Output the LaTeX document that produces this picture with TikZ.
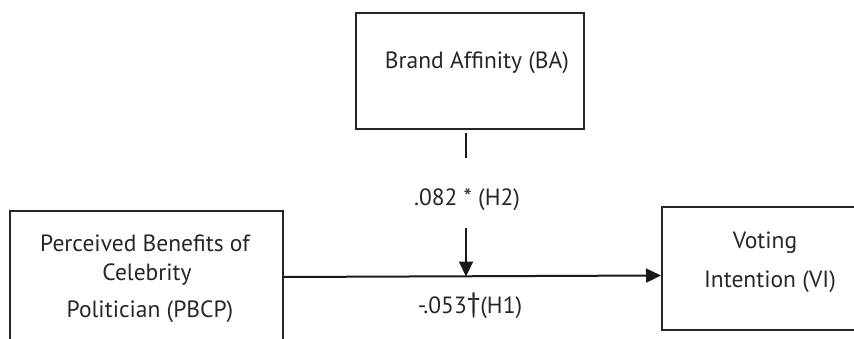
\documentclass[tikz,border=0pt]{standalone}
\usepackage{fontspec}
\setmainfont{PT Sans}
\usetikzlibrary{arrows.meta}
\begin{document}
\begin{tikzpicture}[x=1pt,y=-1pt,
  box/.style={draw=black!85,line width=1.8pt},
  lbl/.style={font=\fontsize{23.5}{28}\selectfont,text=black!85,inner sep=0pt},
  conn/.style={draw=black!90,line width=2pt},
  arr/.style={conn,-{Triangle[length=15pt,width=14pt]}}]
\useasboundingbox (0,0) rectangle (854,339);
% Brand Affinity box
\node[box,minimum width=228pt,minimum height=115.5pt,inner sep=0pt,anchor=north west] (ba) at (355,12.5) {};
\node[lbl] (batext) at (477,63) {Brand Affinity (BA)};
% PBCP box (cut off at bottom)
\coordinate (pbl) at (10,345);
\coordinate (pbr) at (283,345);
\draw[box] (pbl) -- (10,211) -- (283,211) -- (pbr);
\node[lbl] (p1) at (145,243) {Perceived Benefits of};
\node[lbl] (p2) at (147,275) {Celebrity};
\node[lbl] (p3) at (150,312) {Politician (PBCP)};
% VI box (cut off at right)
\coordinate (vtr) at (860,207);
\coordinate (vbr) at (860,330);
\draw[box] (vtr) -- (662,207) -- (662,330) -- (vbr);
\node[lbl] (v1) at (765,243) {Voting};
\node[lbl] (v2) at (770,282) {Intention (VI)};
% connectors
\coordinate (hs) at (283,277);
\coordinate (he) at (661,275.5);
\draw[arr] (hs) -- (he);
\coordinate (vs1) at (466,133);
\coordinate (ve1) at (466,158);
\draw[conn] (vs1) -- (ve1);
\node[lbl] (h2) at (467,200) {.082 * (H2)};
\coordinate (vs2) at (466,228);
\coordinate (ve2) at (466,276.5);
\draw[arr] (vs2) -- (ve2);
\node[lbl] (h1) at (470,306) {-.053\raisebox{1pt}{\fontsize{28}{30}\selectfont †}(H1)};
\end{tikzpicture}
\end{document}
